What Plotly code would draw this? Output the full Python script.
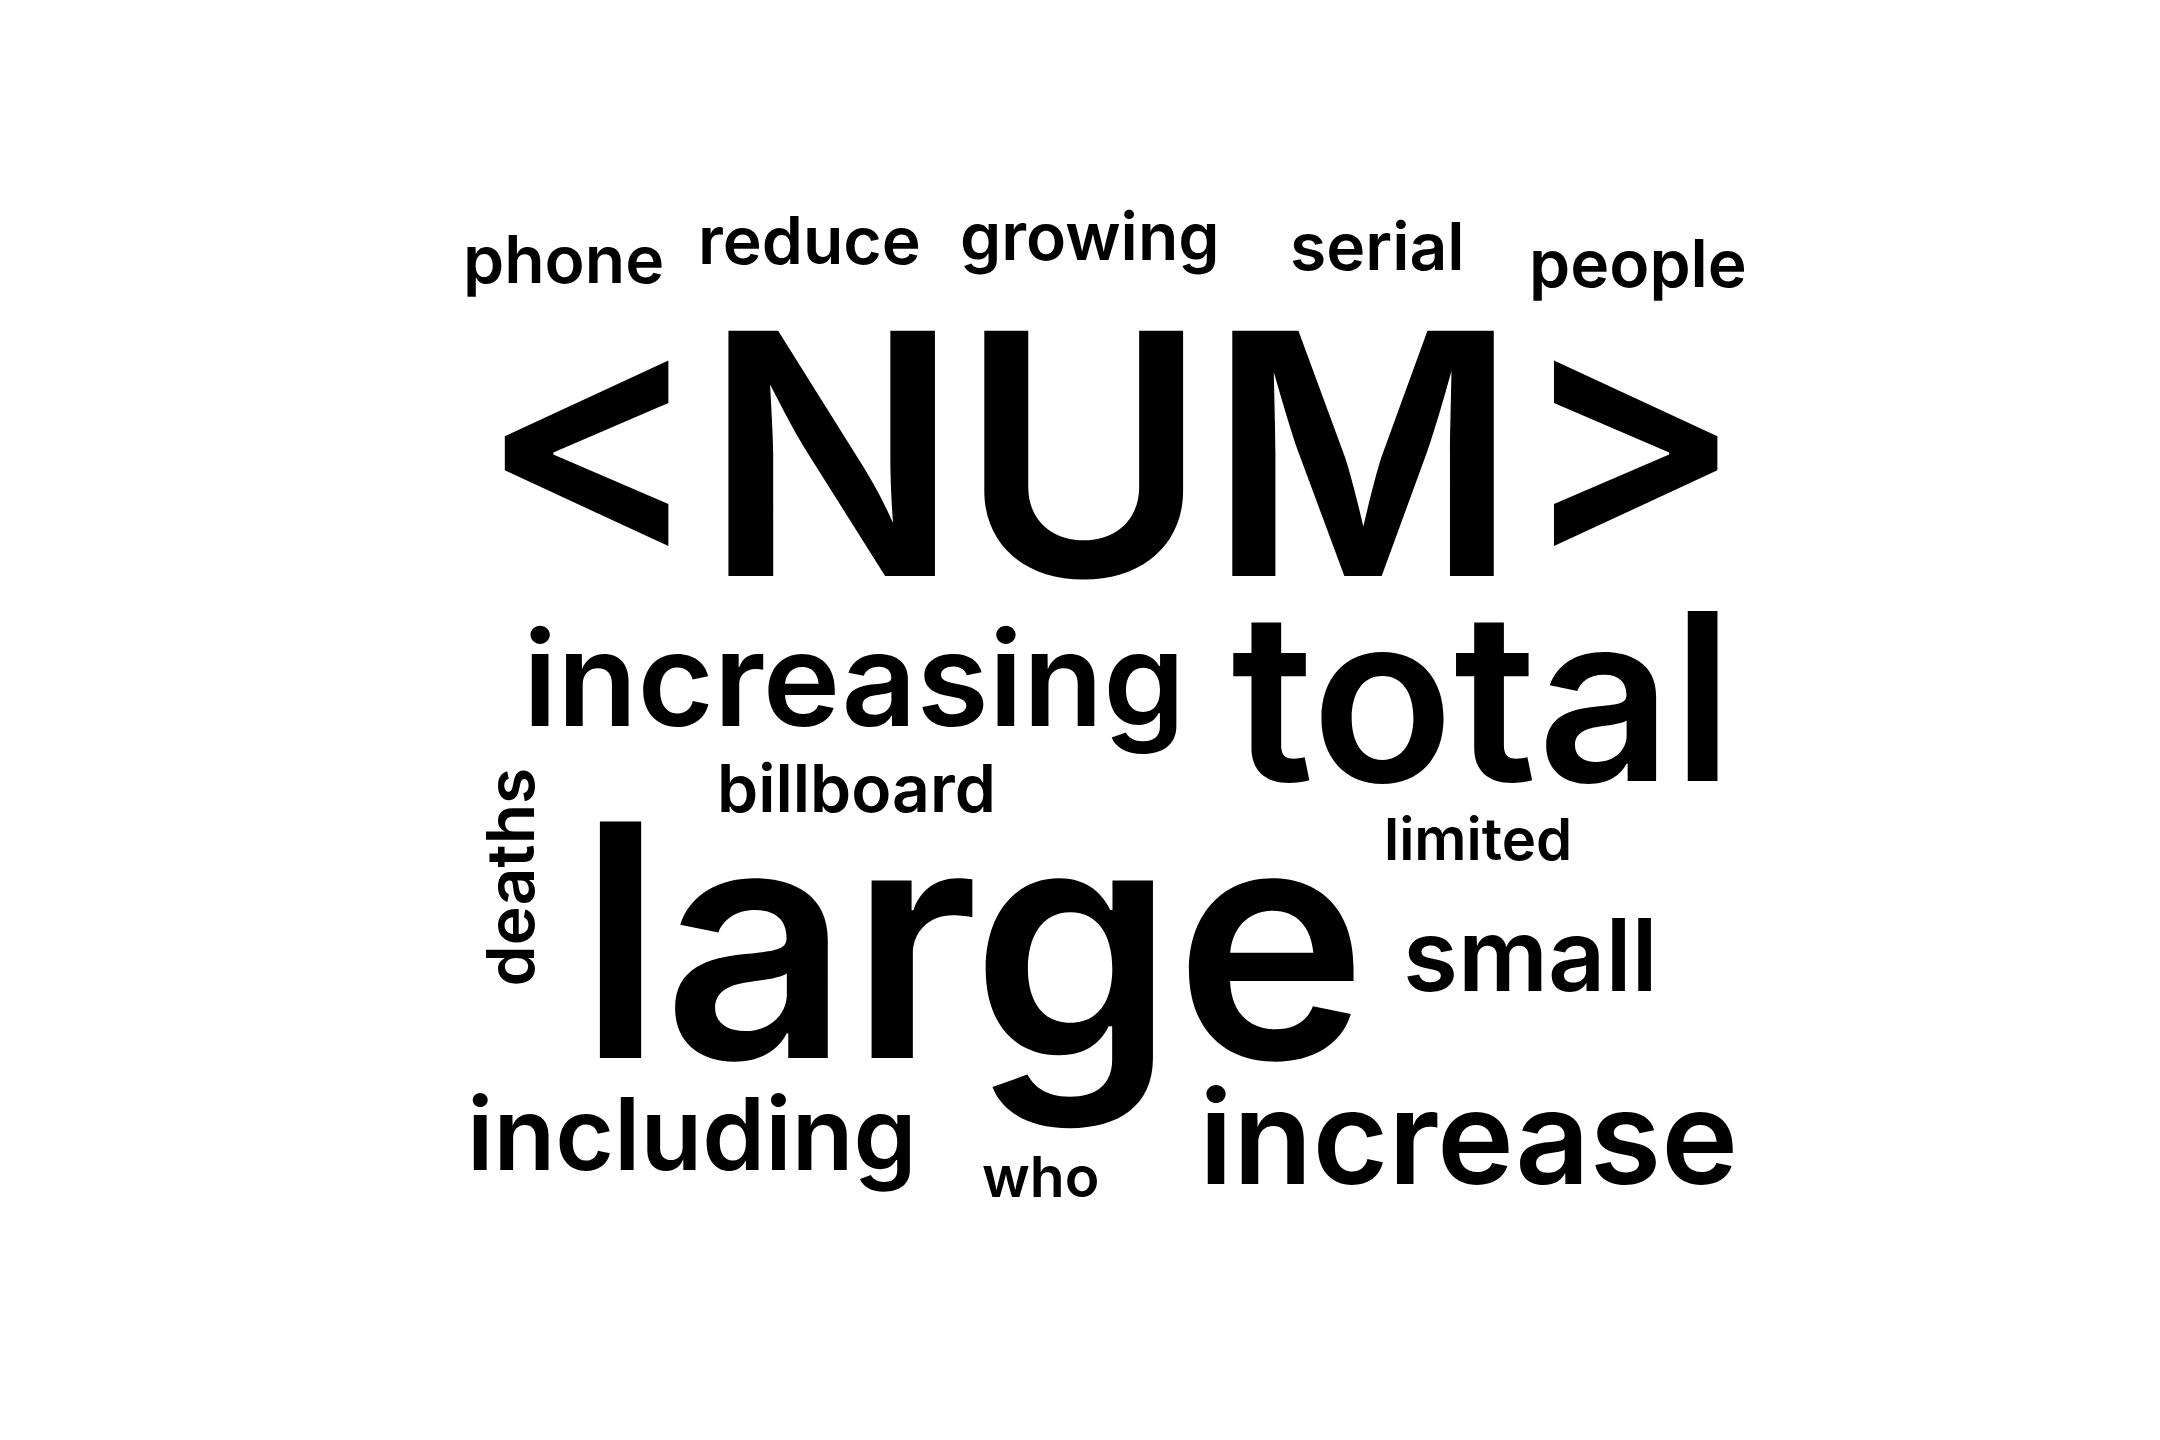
import plotly.graph_objects as go

# word frequencies (relative) for the cloud
words = ["<NUM>", "large", "total", "increasing", "increase", "including",
         "small", "phone", "reduce", "growing", "serial", "people",
         "billboard", "deaths", "limited", "who"]
counts = [337, 325, 234, 131, 130, 101, 100, 66, 66, 66, 66, 66, 66, 66, 58, 57]

# cloud layout (pixel positions of word centres, rotation)
pos_x = [1111, 972, 1485, 852, 1471, 689, 1534, 560, 807, 1090, 1380, 1642,
         855, 506, 1481, 1040]
pos_y = [451, 942, 695, 678, 1141, 1138, 957, 254, 235, 231, 241, 258,
         789, 879, 840, 1182]
angles = [0, 0, 0, 0, 0, 0, 0, 0, 0, 0, 0, 0, 0, -90, 0, 0]

W, H = 2160, 1440

fig = go.Figure()
fig.add_trace(go.Scatter(x=[0, W], y=[0, H], mode="markers",
                         marker=dict(opacity=0), hoverinfo="skip"))

for w, c, x, y, a in zip(words, counts, pos_x, pos_y, angles):
    fig.add_annotation(
        x=x, y=y, xref="x", yref="y", text=w, showarrow=False,
        textangle=a, xanchor="center", yanchor="middle",
        font=dict(family="Inter", size=c, color="black", weight=600),
    )

fig.update_xaxes(range=[0, W], visible=False, fixedrange=True)
fig.update_yaxes(range=[H, 0], visible=False, fixedrange=True)
fig.update_layout(
    margin=dict(l=0, r=0, t=0, b=0),
    plot_bgcolor="white",
    paper_bgcolor="white",
    showlegend=False,
)

fig.write_html("out.html")
